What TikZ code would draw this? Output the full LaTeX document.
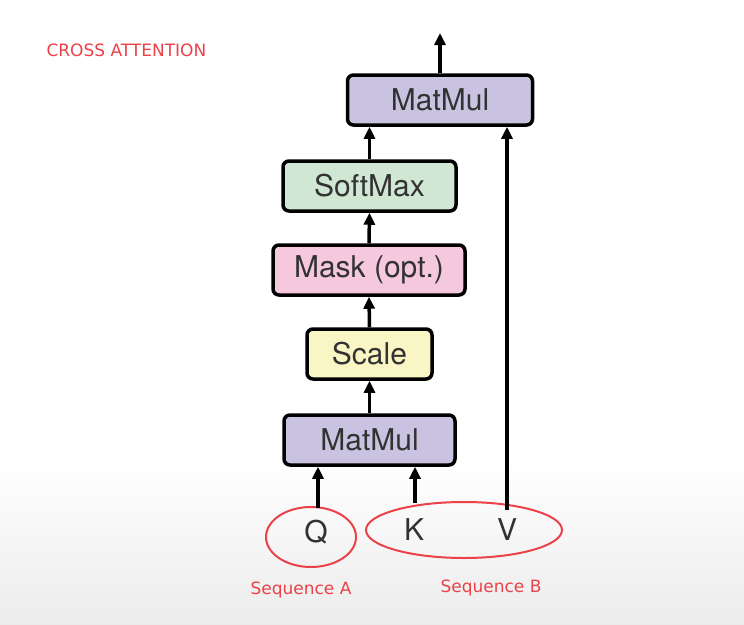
\documentclass[tikz,border=0pt]{standalone}
\usepackage{fontspec}
\setmainfont{TeX Gyre Heros}
\newfontfamily\redfont{DejaVu Sans}
\usetikzlibrary{arrows.meta,shapes.geometric}
\definecolor{mmfill}{RGB}{201,195,225}
\definecolor{smfill}{RGB}{208,231,212}
\definecolor{mkfill}{RGB}{246,200,222}
\definecolor{scfill}{RGB}{249,245,196}
\definecolor{redc}{RGB}{234,66,72}
\definecolor{txtc}{RGB}{50,50,50}
\definecolor{bggray}{RGB}{236,236,236}
\begin{document}
\begin{tikzpicture}[x=1pt,y=-1pt,
  opbox/.style={draw=black, line width=3.5pt, rounded corners=6pt, minimum height=50pt,
     inner sep=0pt, text=txtc, font=\fontsize{30}{34}\selectfont},
  arr/.style={line width=3.5pt, -{Triangle[length=12pt,width=11pt]}},
  ring/.style={draw=redc, line width=2pt, ellipse},
  redlbl/.style={text=redc, font=\redfont\fontsize{17}{20}\selectfont},
  letter/.style={text=txtc, font=\fontsize{30}{34}\selectfont}]
\useasboundingbox (0,0) rectangle (744,624);
\fill[white] (0,0) rectangle (744,460);
\shade[top color=white, bottom color=bggray] (0,460) rectangle (744,624);

\node[opbox, fill=mmfill, minimum width=185pt] (mm2) at (440,100) {MatMul};
\node[opbox, fill=smfill, minimum width=173pt] (sm) at (369.5,186) {SoftMax};
\node[opbox, fill=mkfill, minimum width=192pt] (mk) at (369,270) {Mask (opt.)};
\node[opbox, fill=scfill, minimum width=125pt] (sc) at (369.5,354) {Scale};
\node[opbox, fill=mmfill, minimum width=171pt] (mm1) at (369.5,440) {MatMul};

\coordinate (out) at (440,33);
\draw[arr] (mm2.north) -- (out);
\draw[arr] (mm1.north) -- (sc.south);
\draw[arr] (sc.north) -- (mk.south);
\draw[arr] (mk.north) -- (sm.south);
\draw[arr] (sm.north) -- (sm.north |- mm2.south);

\node[ring, minimum width=90pt, minimum height=60pt] (ea) at (311,537) {};
\node[ring, minimum width=196pt, minimum height=56pt] (eb) at (464,530) {};
\node[letter] (q) at (316,532) {Q};
\node[letter] (k) at (414,530) {K};
\node[letter] (v) at (507,530) {V};

\coordinate (qs) at (318,508);
\coordinate (ks) at (415,503);
\coordinate (vs) at (507,510);
\draw[arr] (qs) -- (qs |- mm1.south);
\draw[arr] (ks) -- (ks |- mm1.south);
\draw[arr] (vs) -- (vs |- mm2.south);

\node[redlbl] (sa) at (301,590) {Sequence A};
\node[redlbl] (sb) at (491,588) {Sequence B};
\node[redlbl, anchor=west] (title) at (43,50) {CROSS ATTENTION};
\end{tikzpicture}
\end{document}
